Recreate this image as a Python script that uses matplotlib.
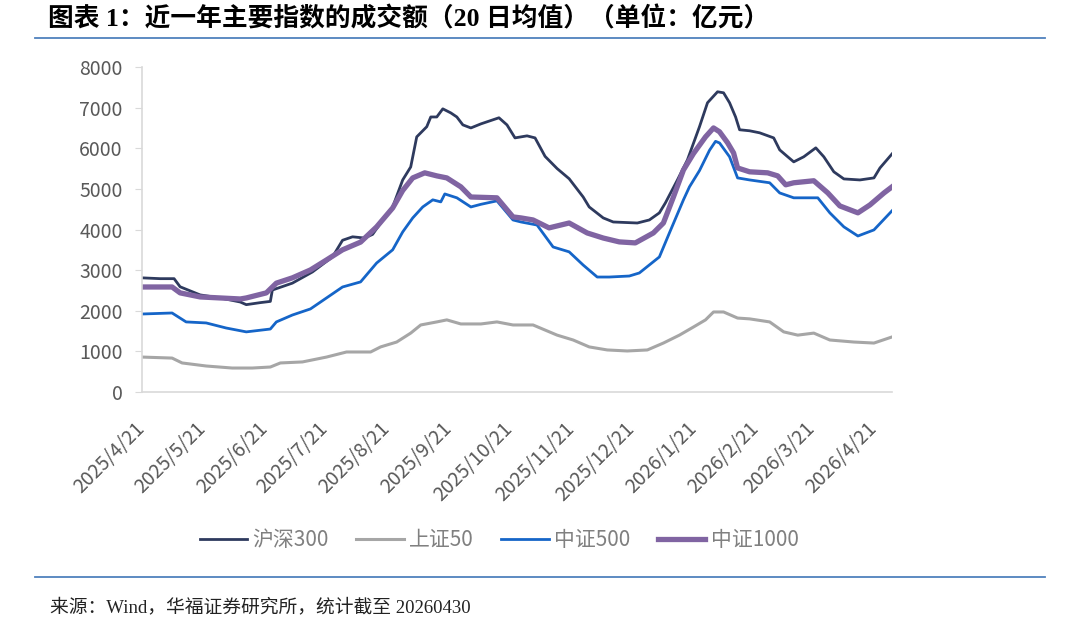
import pandas as pd
import matplotlib
matplotlib.use('Agg')
import matplotlib.pyplot as plt
from matplotlib.lines import Line2D

plt.rcParams['font.family'] = ['Noto Sans CJK SC', 'DejaVu Sans']

# 沪深300
hs300_dates = ['2025-04-21', '2025-04-30', '2025-05-07', '2025-05-10', '2025-05-20', '2025-05-30',
               '2025-06-09', '2025-06-12', '2025-06-19', '2025-06-24', '2025-06-25', '2025-07-05',
               '2025-07-15', '2025-07-25', '2025-07-30', '2025-08-04', '2025-08-10', '2025-08-14',
               '2025-08-18', '2025-08-24', '2025-08-29', '2025-09-02', '2025-09-05', '2025-09-10',
               '2025-09-12', '2025-09-15', '2025-09-18', '2025-09-22', '2025-09-25', '2025-09-28',
               '2025-10-02', '2025-10-07', '2025-10-16', '2025-10-20', '2025-10-24', '2025-10-30',
               '2025-11-03', '2025-11-08', '2025-11-14', '2025-11-20', '2025-11-27', '2025-11-30',
               '2025-12-07', '2025-12-12', '2025-12-24', '2025-12-30', '2026-01-04', '2026-01-07',
               '2026-01-13', '2026-01-18', '2026-01-24', '2026-01-28', '2026-02-02', '2026-02-05',
               '2026-02-08', '2026-02-11', '2026-02-13', '2026-02-18', '2026-02-23', '2026-03-02',
               '2026-03-05', '2026-03-09', '2026-03-12', '2026-03-17', '2026-03-23', '2026-03-27',
               '2026-04-01', '2026-04-06', '2026-04-14', '2026-04-21', '2026-04-24', '2026-04-30']
hs300 = [2810, 2790, 2790, 2590, 2390, 2315,
         2215, 2150, 2200, 2230, 2510, 2680,
         2955, 3325, 3735, 3820, 3790, 3880,
         4160, 4555, 5220, 5540, 6280, 6530,
         6770, 6770, 6970, 6870, 6770, 6575,
         6500, 6600, 6750, 6575, 6255, 6305,
         6255, 5800, 5500, 5250, 4800, 4555,
         4285, 4185, 4160, 4235, 4410, 4655,
         5220, 5715, 6530, 7120, 7390, 7365,
         7120, 6770, 6455, 6430, 6380, 6255,
         5960, 5790, 5665, 5790, 6010, 5790,
         5420, 5245, 5220, 5270, 5515, 5860]

# 上证50
sz50_dates = ['2025-04-21', '2025-05-06', '2025-05-11', '2025-05-23', '2025-06-05', '2025-06-15',
              '2025-06-24', '2025-06-29', '2025-07-10', '2025-07-22', '2025-08-01', '2025-08-13',
              '2025-08-18', '2025-08-26', '2025-09-02', '2025-09-07', '2025-09-15', '2025-09-20',
              '2025-09-27', '2025-10-07', '2025-10-15', '2025-10-23', '2025-11-02', '2025-11-14',
              '2025-11-22', '2025-11-30', '2025-12-09', '2025-12-19', '2025-12-29', '2026-01-06',
              '2026-01-14', '2026-01-21', '2026-01-27', '2026-01-31', '2026-02-05', '2026-02-12',
              '2026-02-18', '2026-02-28', '2026-03-07', '2026-03-14', '2026-03-22', '2026-03-30',
              '2026-04-11', '2026-04-21', '2026-04-30']
sz50 = [860, 835, 715, 640, 590, 590,
        615, 715, 740, 860, 985, 985,
        1110, 1230, 1450, 1650, 1725, 1775,
        1675, 1675, 1725, 1650, 1650, 1400,
        1280, 1110, 1035, 1010, 1035, 1205,
        1400, 1600, 1775, 1970, 1970, 1820,
        1800, 1725, 1480, 1400, 1450, 1280,
        1230, 1205, 1355]

# 中证500
zz500_dates = ['2025-04-21', '2025-05-06', '2025-05-13', '2025-05-23', '2025-06-02', '2025-06-12',
               '2025-06-24', '2025-06-27', '2025-07-05', '2025-07-14', '2025-07-22', '2025-07-30',
               '2025-08-08', '2025-08-16', '2025-08-24', '2025-08-29', '2025-09-03', '2025-09-08',
               '2025-09-13', '2025-09-17', '2025-09-19', '2025-09-25', '2025-10-02', '2025-10-07',
               '2025-10-15', '2025-10-23', '2025-10-27', '2025-11-04', '2025-11-12', '2025-11-20',
               '2025-11-27', '2025-12-04', '2025-12-10', '2025-12-20', '2025-12-25', '2026-01-04',
               '2026-01-09', '2026-01-16', '2026-01-19', '2026-01-24', '2026-01-29', '2026-02-01',
               '2026-02-03', '2026-02-08', '2026-02-12', '2026-02-18', '2026-02-28', '2026-03-05',
               '2026-03-12', '2026-03-24', '2026-03-30', '2026-04-06', '2026-04-13', '2026-04-21',
               '2026-04-30']
zz500 = [1920, 1945, 1725, 1700, 1575, 1480,
         1550, 1725, 1895, 2045, 2315, 2585,
         2710, 3175, 3500, 3940, 4285, 4555,
         4730, 4680, 4875, 4780, 4555, 4620,
         4705, 4235, 4185, 4110, 3570, 3450,
         3125, 2830, 2830, 2855, 2930, 3325,
         3915, 4730, 5050, 5450, 5950, 6170,
         6130, 5790, 5270, 5220, 5150, 4900,
         4780, 4780, 4410, 4065, 3840, 3990,
         4460]

# 中证1000
zz1000_dates = ['2025-04-21', '2025-05-06', '2025-05-10', '2025-05-20', '2025-05-30', '2025-06-09',
                '2025-06-12', '2025-06-22', '2025-06-27', '2025-07-05', '2025-07-14', '2025-07-22',
                '2025-07-30', '2025-08-08', '2025-08-16', '2025-08-24', '2025-08-29', '2025-09-03',
                '2025-09-09', '2025-09-15', '2025-09-20', '2025-09-27', '2025-10-02', '2025-10-15',
                '2025-10-23', '2025-10-27', '2025-11-02', '2025-11-10', '2025-11-20', '2025-11-29',
                '2025-12-07', '2025-12-15', '2025-12-23', '2026-01-01', '2026-01-06', '2026-01-11',
                '2026-01-16', '2026-01-21', '2026-01-27', '2026-01-31', '2026-02-03', '2026-02-07',
                '2026-02-10', '2026-02-12', '2026-02-18', '2026-02-27', '2026-03-04', '2026-03-08',
                '2026-03-12', '2026-03-22', '2026-03-29', '2026-04-04', '2026-04-13', '2026-04-19',
                '2026-04-26', '2026-04-30']
zz1000 = [2585, 2585, 2440, 2340, 2315, 2290,
          2315, 2440, 2680, 2810, 3005, 3250,
          3500, 3690, 4065, 4530, 4960, 5270,
          5395, 5320, 5270, 5050, 4800, 4780,
          4310, 4285, 4235, 4040, 4160, 3915,
          3790, 3695, 3670, 3915, 4160, 4800,
          5465, 5870, 6280, 6500, 6405, 6135,
          5885, 5515, 5420, 5395, 5320, 5100,
          5150, 5200, 4900, 4580, 4410, 4605,
          4900, 5050]

tick_dates = ['2025-04-21', '2025-05-21', '2025-06-21', '2025-07-21', '2025-08-21', '2025-09-21',
              '2025-10-21', '2025-11-21', '2025-12-21', '2026-01-21', '2026-02-21', '2026-03-21',
              '2026-04-21']
tick_labels = ['2025/4/21', '2025/5/21', '2025/6/21', '2025/7/21', '2025/8/21', '2025/9/21',
               '2025/10/21', '2025/11/21', '2025/12/21', '2026/1/21', '2026/2/21', '2026/3/21',
               '2026/4/21']

series = [
    ('沪深300', hs300_dates, hs300, '#2e3a5e', 2.0),
    ('上证50', sz50_dates, sz50, '#a6a6a6', 2.2),
    ('中证500', zz500_dates, zz500, '#1565c8', 2.0),
    ('中证1000', zz1000_dates, zz1000, '#8064a2', 3.8),
]

fig = plt.figure(figsize=(10.8, 6.36), dpi=100)
ax = fig.add_axes([142/1080, 1-392/636, 750/1080, 325/636])

for name, d, v, c, lw in series:
    ax.plot(pd.to_datetime(d), v, color=c, lw=lw, solid_joinstyle='round')

ax.set_xlim(pd.Timestamp('2025-04-21'), pd.Timestamp('2026-04-30'))
ax.set_ylim(0, 8000)
ax.set_yticks(range(0, 8001, 1000))
ax.set_xticks(pd.to_datetime(tick_dates))
ax.set_xticklabels(tick_labels, rotation=45, ha='right', va='center', rotation_mode='anchor')

for s in ['top', 'right']:
    ax.spines[s].set_visible(False)
for s in ['left', 'bottom']:
    ax.spines[s].set_color('#d9d9d9')
    ax.spines[s].set_linewidth(1.2)
ax.tick_params(axis='y', colors='#d9d9d9', labelcolor='#595959', labelsize=14, length=5, pad=9)
ax.tick_params(axis='x', labelcolor='#595959', labelsize=14, length=0, pad=24)

handles = [Line2D([], [], color=c, lw=lw) for _, _, _, c, lw in series]
fig.legend(handles, [s[0] for s in series], loc='center', bbox_to_anchor=(499/1080, 1-540/636),
           ncol=4, frameon=False, fontsize=15, labelcolor='#808080',
           handlelength=2.3, handletextpad=0.25, columnspacing=1.3)

# title and source
fig.text(48/1080, 1-19/636, '图表 1：近一年主要指数的成交额（20 日均值）（单位：亿元）',
         fontsize=18.5, fontweight='bold', va='center', ha='left',
         family=['Liberation Serif', 'Noto Sans CJK SC'])
fig.add_artist(Line2D([35/1080, 1045/1080], [1-38/636, 1-38/636], color='#4f81bd', lw=1.3))
fig.add_artist(Line2D([35/1080, 1045/1080], [1-577/636, 1-577/636], color='#4f81bd', lw=1.3))
fig.text(50/1080, 1-607/636, '来源：Wind，华福证券研究所，统计截至 20260430',
         fontsize=13.5, va='center', ha='left', color='#222222',
         family=['Liberation Serif', 'Noto Sans CJK SC'])

fig.savefig('out.png', dpi=100)
